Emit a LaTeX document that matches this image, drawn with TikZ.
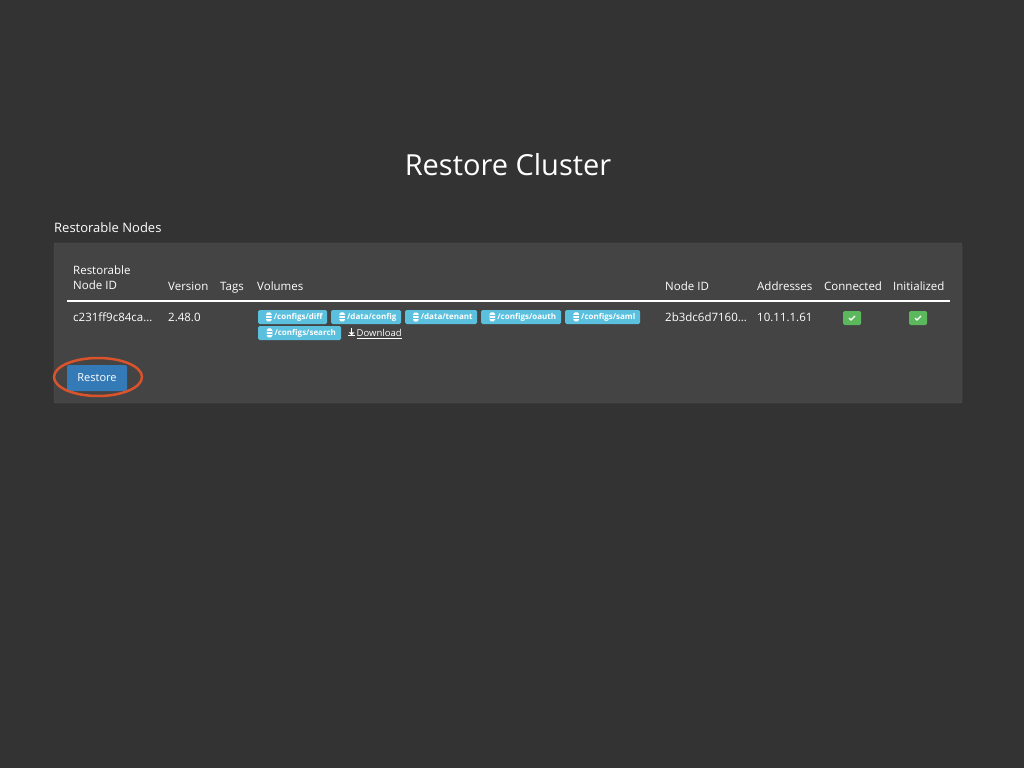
\documentclass[tikz,border=0pt]{standalone}
\usepackage{fontspec}
\setmainfont{Open Sans}
\usepackage{tikz}
\usetikzlibrary{calc}
\definecolor{bgdark}{HTML}{333333}
\definecolor{panel}{HTML}{444444}
\definecolor{panelline}{HTML}{555555}
\definecolor{infoblue}{HTML}{5BC0DE}
\definecolor{btnblue}{HTML}{337AB7}
\definecolor{okgreen}{HTML}{5CB85C}
\definecolor{ring}{HTML}{D9532C}
\tikzset{
  txt/.style={text=white, inner sep=0pt, anchor=west, font=\fontsize{11.5}{15}\selectfont},
  cell/.style={txt, text height=8.5pt, text depth=3pt},
  badge/.style={fill=infoblue, rounded corners=1.5pt, text=white, inner sep=0pt, minimum height=14pt,
    anchor=west, font=\fontsize{8}{9}\selectfont\bfseries, align=left},
  tick/.style={fill=okgreen, rounded corners=1.5pt, minimum width=18pt, minimum height=14pt, inner sep=0pt}
}
\newcommand{\dbicon}{\tikz[baseline=-2.8pt,x=1pt,y=1pt]{\fill[white] (0,-4.5) rectangle (5.5,4.5);
  \draw[infoblue,line width=.6pt] (0,-1.5) -- (5.5,-1.5) (0,1.5) -- (5.5,1.5);}\hspace{2pt}}
\newcommand{\dlicon}{\tikz[baseline=0pt,x=1pt,y=1pt]{\draw[white,line width=1.2pt] (3.5,8) -- (3.5,3);
  \fill[white] (0.5,4) -- (6.5,4) -- (3.5,1) -- cycle; \fill[white] (0,0) rectangle (7,0.9);}\hspace{1.5pt}}
\begin{document}
\begin{tikzpicture}[x=1pt,y=-1pt]
      \fill[bgdark] (0,0) rectangle (1024,768);
      \useasboundingbox (0,0) rectangle (1024,768);
      \node (title) at (508,165) [text=white, font=\fontsize{29}{34}\selectfont] {Restore Cluster};
      \node (sub) at (54,228) [txt, font=\fontsize{13}{15}\selectfont] {Restorable Nodes};
      \draw[panelline, fill=panel, rounded corners=2pt] (54,243) rectangle (962,403);
      % header
      \node (h1) at (73,278) [txt, align=left] {Restorable\\Node ID};
      \node (h2) at (168,288) [cell] {Version};
      \node (h3) at (220,288) [cell] {Tags};
      \node (h4) at (257,288) [cell] {Volumes};
      \node (h5) at (665,288) [cell] {Node ID};
      \node (h6) at (757,288) [cell] {Addresses};
      \node (h7) at (824,288) [cell] {Connected};
      \node (h8) at (893,288) [cell] {Initialized};
      \coordinate (ruleL) at (67,301);
      \coordinate (ruleR) at (950,301);
      \draw[white, line width=1.3pt] (ruleL) -- (ruleR);
      % row
      \node (id) at (73,319) [cell] {c231ff9c84ca…};
      \node (ver) at (168,319) [cell] {2.48.0};
      \node (v1) at (258,317) [badge, minimum width=69pt] {\hspace{3pt}\dbicon/configs/diff};
      \node (v2) at (331,317) [badge, minimum width=70pt] {\hspace{3pt}\dbicon/data/config};
      \node (v3) at (405,317) [badge, minimum width=72pt] {\hspace{3pt}\dbicon/data/tenant};
      \node (v4) at (481,317) [badge, minimum width=80pt] {\hspace{3pt}\dbicon/configs/oauth};
      \node (v5) at (565,317) [badge, minimum width=75pt] {\hspace{3pt}\dbicon/configs/saml};
      \node (v6) at (258,333) [badge, minimum width=83pt] {\hspace{3pt}\dbicon/configs/search};
      \node (dl) at (348,333) [txt, font=\fontsize{9.5}{11}\selectfont] {\dlicon\underline{Download}};
      \node (nid) at (665,319) [cell] {2b3dc6d7160…};
      \node (addr) at (757,319) [cell] {10.11.1.61};
      \node (c1) at (852,318) [tick] {};
      \node (c2) at (918,318) [tick] {};
      \foreach \c in {c1,c2}
        \draw[white, line width=1.2pt] ($(\c)+(-3,0)$) -- ($(\c)+(-1,2)$) -- ($(\c)+(3,-2)$);
      % button
      \node (btn) at (97,378) [fill=btnblue, rounded corners=2pt, text=white, minimum width=60pt,
        minimum height=26pt, font=\fontsize{11}{13}\selectfont] {Restore};
      \draw[ring, line width=2.5pt] (98,377) ellipse (44 and 19);
    \end{tikzpicture}
\end{document}
